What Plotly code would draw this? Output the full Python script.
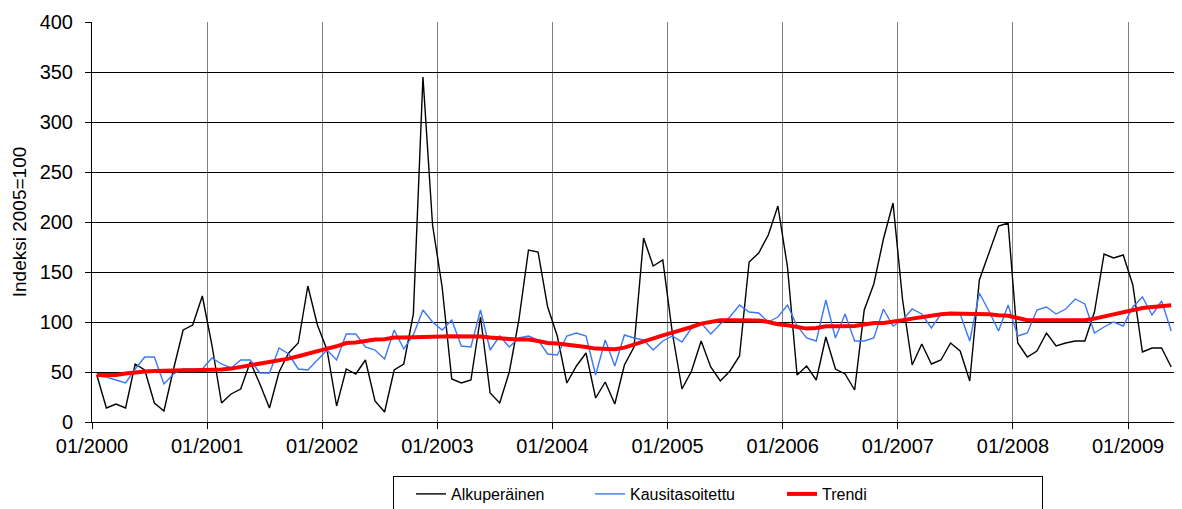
import plotly.graph_objects as go

years = list(range(2000, 2010))
months = [f"{m:02d}/{y}" for y in years for m in range(1, 13)][:113]

alkuperainen = [47, 14, 18, 14, 58, 52, 19, 11, 53, 92, 97, 126,
                77, 19, 28, 33, 60, 38, 14, 50, 69, 79, 136, 97,
                72, 16, 53, 48, 62, 21, 10, 52, 58, 108, 345, 197,
                135, 43, 39, 42, 105, 29, 19, 50, 102, 172, 170, 115,
                86, 39, 56, 69, 24, 40, 18, 57, 75, 184, 156, 162,
                89, 33, 51, 81, 55, 41, 51, 66, 160, 169, 187, 216,
                155, 47, 56, 42, 85, 53, 48, 32, 112, 138, 183, 219,
                122, 57, 78, 58, 62, 79, 71, 41, 142, 168, 196, 199,
                79, 65, 71, 89, 76, 79, 81, 81, 110, 168, 164, 167,
                137, 70, 74, 74, 55]

kausitasoitettu = [46, 45, 42, 39, 53, 65, 65, 38, 48, 53, 53, 53,
                   64, 58, 54, 62, 62, 49, 49, 74, 68, 53, 52, 62,
                   72, 62, 88, 88, 75, 72, 63, 92, 73, 87, 112, 100,
                   92, 102, 76, 75, 112, 72, 86, 75, 84, 86, 82, 68,
                   67, 86, 89, 86, 47, 82, 56, 87, 84, 82, 72, 81,
                   86, 80, 94, 99, 88, 98, 105, 117, 110, 109, 100, 105,
                   117, 96, 84, 81, 122, 84, 108, 81, 81, 84, 113, 96,
                   102, 113, 108, 94, 108, 108, 108, 81, 129, 111, 91, 117,
                   86, 89, 112, 115, 108, 113, 123, 118, 89, 95, 100, 96,
                   115, 125, 107, 121, 91]

trendi = [47, 47, 47, 48.5, 50, 50.5, 51, 51.5, 51.7, 51.7, 51.7, 51.7,
          51.7, 52.5, 53.4, 55, 56.7, 58.5, 60, 61.5, 63.4, 65.7, 68.4, 71.7,
          73.4, 75.7, 79, 79.4, 81, 82.4, 82.7, 84.4, 84.4, 84.4, 84.4, 84.5,
          85.4, 85.7, 85.7, 85.7, 85.5, 84.4, 84.2, 83, 82.4, 82.4, 81, 79,
          78.6, 77.5, 76.7, 75, 73.4, 72.8, 72.7, 74.4, 77.7, 80, 83.4, 86.7,
          89.4, 91.7, 95, 98.4, 100, 101.7, 101.7, 101.7, 101.7, 101.5, 100, 97.7,
          96.7, 95, 93.4, 94, 95.7, 95.7, 95.7, 96, 97.4, 99, 99, 100,
          101.7, 103.4, 105, 106.7, 107.7, 108.4, 108.4, 108.4, 108.4, 107.7, 106.7, 106.2,
          104, 101.7, 101.7, 101.7, 101.7, 101.7, 101.7, 101.7, 103.4, 105.7, 107.7, 110,
          111.7, 114, 115, 115.7, 116.7]

series_names = ["Alkuperäinen", "Kausitasoitettu", "Trendi"]
y_title = "Indeksi 2005=100"

idx = list(range(len(months)))
tick_pos = [i - 0.5 for i, m in enumerate(months) if m.startswith("01/")]
tick_txt = [m for m in months if m.startswith("01/")]

fig = go.Figure()
fig.add_trace(go.Scatter(x=idx, y=alkuperainen, name=series_names[0], mode="lines",
                         line=dict(color="#000000", width=1.4), legendwidth=117))
fig.add_trace(go.Scatter(x=idx, y=kausitasoitettu, name=series_names[1], mode="lines",
                         line=dict(color="#3C78F5", width=1.4), legendwidth=130))
fig.add_trace(go.Scatter(x=idx, y=trendi, name=series_names[2], mode="lines",
                         line=dict(color="#FF0000", width=4), legendwidth=215))

fig.update_layout(
    width=1174, height=501,
    margin=dict(l=84, r=6, t=14, b=87, autoexpand=False),
    paper_bgcolor="white", plot_bgcolor="white",
    font=dict(family="Liberation Sans, Arial, sans-serif", size=20, color="black"),
    showlegend=True,
    legend=dict(
        orientation="h", x=0.2777, xanchor="left", y=-0.135, yanchor="top",
        bordercolor="black", borderwidth=1, bgcolor="white",
        font=dict(family="Liberation Sans, Arial, sans-serif", size=16),
        indentation=17, itemwidth=30,
    ),
    shapes=[dict(type="line", xref="paper", yref="paper", x0=1, x1=1, y0=0, y1=1,
                 line=dict(color="#808080", width=1))],
)
fig.update_xaxes(
    range=[-0.5, len(months) - 0.5], tickmode="array", tickvals=tick_pos, ticktext=tick_txt,
    showgrid=True, gridcolor="#808080", gridwidth=1,
    showline=True, linecolor="black", linewidth=1,
    ticks="outside", ticklen=6, tickcolor="black", zeroline=False,
    tickfont=dict(size=20),
)
fig.update_yaxes(
    range=[0, 400], dtick=50, tick0=0,
    showgrid=True, gridcolor="black", gridwidth=1,
    showline=True, linecolor="black", linewidth=1,
    ticks="outside", ticklen=6, tickcolor="black", zeroline=False,
    tickfont=dict(size=20), ticklabelstandoff=8,
    title=dict(text=y_title, font=dict(size=19), standoff=7),
)

fig.write_html("out.html")
